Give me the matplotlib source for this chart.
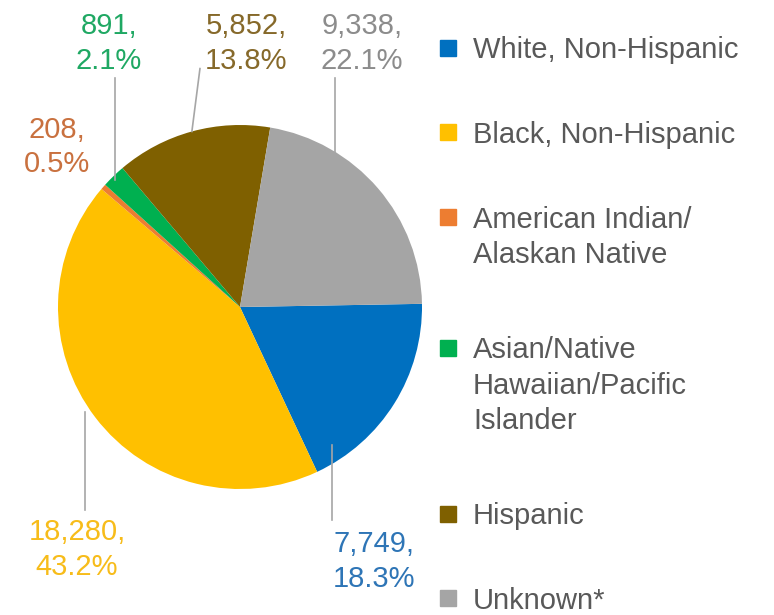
import matplotlib
matplotlib.use("Agg")
import matplotlib.pyplot as plt
from matplotlib.patches import Rectangle
import numpy as np

plt.rcParams['font.family'] = ['Liberation Sans', 'DejaVu Sans']

# cases by race / ethnicity
groups = ['White, Non-Hispanic', 'Black, Non-Hispanic',
          'American Indian/\nAlaskan Native',
          'Asian/Native\nHawaiian/Pacific\nIslander',
          'Hispanic', 'Unknown*']
counts = [7749, 18280, 208, 891, 5852, 9338]
colors = ['#0070C0', '#FFC000', '#ED7D31', '#00B050', '#7F6000', '#A5A5A5']
text_colors = ['#2E75B6', '#F7BC1A', '#C9713F', '#1FA863', '#86692A', '#8C8C8C']

# label placement per slice: (text x, text y, ha, va, anchor fraction along wedge,
# anchor radius, leader end x or None for vertical, leader end y or None for no leader)
label_layout = [
    (0.511, -1.225, 'left', 'top', 0.87, 0.91, None, -1.17),
    (-0.895, -1.16, 'center', 'top', 0.52, 1.03, None, -1.115),
    (-1.005, 0.879, 'center', 'center', 0.5, 1.0, None, None),
    (-0.72, 1.275, 'center', 'bottom', 0.45, 0.98, None, 1.26),
    (0.033, 1.275, 'center', 'bottom', 0.5, 1.0, -0.22, 1.31),
    (0.67, 1.275, 'center', 'bottom', 0.5, 0.69, None, 1.26),
]

total = sum(counts)
W, H = 774, 615

fig = plt.figure(figsize=(W / 100, H / 100), dpi=100)
ax = fig.add_axes([0, 0, 430 / W, 1])

wedges, _ = ax.pie(counts, colors=colors, startangle=1, counterclock=False,
                   radius=1, wedgeprops=dict(linewidth=0))
ax.set_aspect('auto')
ax.set_xlim(-240 / 182, 190 / 182)
ax.set_ylim(-308 / 182, 307 / 182)
ax.axis('off')

for w, n, tc, lay in zip(wedges, counts, text_colors, label_layout):
    tx, ty, ha, va, frac, r, lx, ly = lay
    ang = np.deg2rad(w.theta2 - frac * (w.theta2 - w.theta1))
    x0, y0 = r * np.cos(ang), r * np.sin(ang)
    if ly is not None:
        x1 = x0 if lx is None else lx
        ax.plot([x0, x1], [y0, ly], color='#A6A6A6', lw=1.2, clip_on=False)
    ax.text(tx, ty, f"{n:,},\n{n / total * 100:.1f}%", color=tc, fontsize=21,
            ha=ha, va=va, linespacing=1.3, clip_on=False)

# legend drawn by hand so the swatch sits on the first line of each entry
y = 47.5
for label, c in zip(groups, colors):
    fig.patches.append(Rectangle((440 / W, 1 - (y + 8) / H), 16 / W, 16 / H,
                                 transform=fig.transFigure, color=c))
    fig.text(473 / W, 1 - (y - 11) / H, label, fontsize=21, color='#595959',
             ha='left', va='top', linespacing=1.33)
    nlines = label.count('\n') + 1
    y += (nlines - 1) * 35 + (84.5 if nlines == 1 else 96)

fig.savefig('out.png', dpi=100)
